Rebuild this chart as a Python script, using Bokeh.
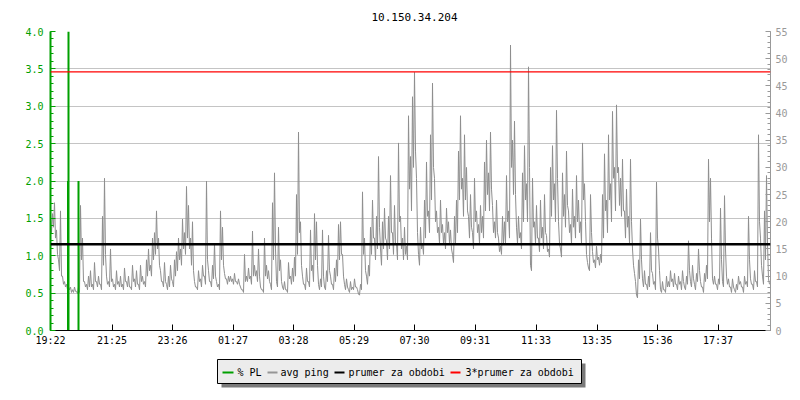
import numpy as np
from bokeh.plotting import figure
from bokeh.models import Range1d, LinearAxis, FixedTicker, PrintfTickFormatter, Span, Title
from bokeh.layouts import column
from bokeh.core.properties import value
from bokeh.embed import file_html
from bokeh.resources import INLINE

# ---------------- data ----------------
title_text = "10.150.34.204"
tick_minutes = [0, 123, 244, 365, 486, 607, 728, 849, 971, 1093, 1214, 1335]
tick_labels = ["19:22", "21:25", "23:26", "01:27", "03:28", "05:29",
               "07:30", "09:31", "11:33", "13:35", "15:36", "17:37"]
sample_step_min = 2
# first sample of each 4-minute pair
avg_ping_a = [
    20.5, 21.5, 23.5, 18.5, 13, 22, 10, 9, 8.5, 8,
    8, 7.5, 8, 7.2, 8, 23, 17, 9, 8.5, 10,
    11, 8.5, 12.5, 9, 10, 8.5, 21, 28, 10, 9,
    15, 9.5, 8.5, 11, 9, 10, 8.5, 11.5, 9, 10,
    8, 12, 9.5, 11, 8.5, 12, 10, 9, 13, 15,
    12, 17, 18, 22, 17, 11, 9, 12.5, 8.5, 10,
    12, 9, 13, 14.5, 17, 15, 20.5, 18, 26.5, 23,
    17, 20, 9, 8, 11, 9.5, 12, 10, 27.5, 11,
    9, 12, 16, 9, 8.5, 22, 19, 10.5, 9.5, 10,
    10, 9.5, 10.5, 9, 9.5, 8, 7.5, 14, 10, 11.5,
    10, 18.3, 12, 11, 15, 8, 7.5, 17, 12, 11,
    8.5, 23.5, 29, 9, 19, 13, 8, 9, 7.5, 12.5,
    10, 11.5, 13.5, 25, 36.5, 20, 10, 8.5, 11.5, 9,
    18.5, 12, 21.5, 20, 8.5, 9.5, 18.5, 8, 11, 17.5,
    10, 8.5, 11.5, 13, 19.5, 20, 14, 8.5, 9.5, 7.5,
    9, 8, 9.5, 8, 6.7, 8.5, 25.5, 17, 10, 12,
    19, 24, 17, 21, 32, 15, 20, 22.5, 16.5, 21,
    28.5, 18, 23, 16, 34.5, 21, 17, 19, 15.5, 39.5,
    32, 43, 47.5, 28, 14, 19, 16, 24, 31, 22,
    36, 45.5, 28, 22, 19, 24, 19.5, 18, 22.5, 20,
    18.5, 14, 21, 24, 33, 39.5, 28, 36, 30, 21,
    25, 18, 28, 22, 19.5, 23, 21, 31, 35, 29,
    36.5, 23, 20, 24, 17, 15.5, 21, 20, 28.5, 22,
    52.5, 35, 38.5, 19, 21, 18, 29, 34, 27, 48.5,
    12, 28, 20, 23, 17, 24, 19, 25, 17.5, 15,
    30, 34, 27, 40.5, 20, 15, 29, 25, 33, 22,
    19.5, 26, 21, 28.5, 24, 20, 34.5, 27, 14, 11.5,
    25, 14.5, 13, 15.5, 13.5, 14, 25, 32.5, 24, 36,
    27, 40.3, 30, 41.5, 30, 28, 31.5, 22, 26, 21,
    31.5, 15, 10.5, 6.5, 13, 20.5, 9.5, 11, 8.5, 10,
    18, 10.5, 9, 27.3, 15, 7.5, 9, 7.5, 10, 9,
    11, 9.5, 10.5, 8.5, 10, 9, 11, 8, 10, 16.5,
    9, 12, 8.5, 10.5, 15, 9, 8, 10.5, 12, 31.5,
    28, 9.5, 10, 8.5, 9.5, 22.5, 9, 24.8, 10, 9.5,
    8, 9.5, 7.5, 8.5, 10, 9, 8, 10, 9, 21,
    9.5, 8.5, 11, 9, 36, 17, 10, 22, 28.5, 9.5,
]
# second sample of each 4-minute pair (lower edge of the band in the picture)
avg_ping_b = [
    18, 19, 17, 14, 11, 10, 8.5, 8, 7.5, 7.5,
    7, 7, 7.2, 6.8, 7, 13, 9, 8, 7.5, 8,
    8, 7.5, 9, 8, 8.5, 7.5, 12, 14, 8.5, 8,
    9, 8, 7.5, 8.5, 8, 8, 7.5, 9, 8, 8,
    7.5, 9, 8, 8.5, 7.5, 9, 8.5, 8, 10, 11,
    10, 13, 14, 15, 12, 9, 8, 9, 7.5, 8,
    9.5, 8, 10, 11, 13, 12, 15, 14, 17, 15,
    12, 11, 8, 7.5, 9, 8, 10, 8.5, 13, 9,
    8, 9.5, 10, 8, 7.5, 13, 12, 9.5, 8.5, 9,
    9, 8.5, 9, 8.5, 8.5, 7.5, 7, 9, 9, 9.5,
    8.5, 10, 10, 9, 10, 7.5, 7, 10, 9.5, 9,
    7.5, 13, 15, 8, 11, 9, 7.5, 7.5, 7, 9.5,
    8.5, 9, 10, 14, 18, 12, 8.5, 7.5, 9, 8,
    11, 9, 13, 12, 7.5, 8, 10, 7.5, 9, 11,
    8.5, 7.5, 9, 10, 13, 14, 10, 7.5, 8, 7,
    7.5, 7.5, 8, 7.5, 6.5, 7.5, 14, 11, 8.5, 10,
    14, 17, 13, 15, 19, 12, 15, 17, 13, 15,
    18, 14, 16, 13, 20, 15, 13, 14, 13, 26,
    22, 30, 33, 18, 12, 15, 14, 17, 21, 18,
    24, 30, 20, 18, 16, 18, 16, 15, 18, 16,
    15, 12.5, 16, 18, 24, 26, 21, 24, 22, 17,
    19, 15, 20, 18, 16, 18, 17, 22, 25, 22,
    26, 18, 17, 18, 14.5, 14, 16, 16, 20, 17,
    30, 25, 25, 16, 17, 15, 20, 24, 20, 30,
    11, 19, 16, 17, 14.5, 17, 15, 18, 14.5, 13.5,
    21, 24, 20, 28, 16, 13.5, 21, 19, 23, 18,
    16, 19, 17, 20, 18, 16, 24, 20, 12.5, 11,
    18, 12.5, 11.5, 13, 12, 12.5, 17, 22, 18, 24,
    20, 28, 22, 29, 23, 21, 22, 17, 19, 16,
    20, 12, 9, 6, 9.5, 13, 8, 8.5, 7.5, 8,
    11, 8.5, 7.5, 17, 11, 7, 7.5, 7, 8, 8,
    9, 8, 8.5, 7.5, 8.5, 7.5, 9, 7.5, 8.5, 11,
    8, 9.5, 7.5, 9, 11, 8, 7, 9, 9.5, 20,
    17, 8.5, 8.5, 7.5, 8.5, 13, 8, 15, 8.5, 8,
    7, 8, 7, 7.5, 8.5, 8, 7, 8.5, 8, 13,
    8.5, 7.5, 9, 8, 20, 12, 8.5, 13, 16, 8.5,
]
pl_minutes = [35, 36, 56]
pl_percent = [2.0, 4.0, 2.0]
period_mean_ms = 15.86
period_mean_x3_ms = 47.57
legend_labels = ["% PL", "avg ping", "prumer za obdobi", "3*prumer za obdobi"]

# interleave the two samples of each pair into one time series
avg_ping_ms = list(np.column_stack([avg_ping_a, avg_ping_b]).ravel())
ping_minutes = list(np.arange(len(avg_ping_ms)) * sample_step_min)

# ---------------- styles ----------------
FONT = "DejaVu Sans Mono"
GREEN = "#00a000"
GRAY = "#8e8e8e"
AXGRAY = "#999999"
GRID = "#c4c4c4"

BL, BR = 50, 22  # left / right borders (px)

p = figure(width=792, height=350, x_range=Range1d(0, 1440), y_range=Range1d(0, 4),
           output_backend="svg", toolbar_location=None,
           min_border_left=BL, min_border_right=BR, min_border_top=30, min_border_bottom=20)
p.outline_line_color = None
p.background_fill_color = "white"
p.border_fill_color = "white"
p.extra_y_ranges = {"ping": Range1d(0, 55)}

p.title = Title(text=title_text, align="left", text_font=FONT, text_font_size="11px",
                text_font_style="normal", text_color="black", standoff=21, offset=321)

p.xgrid.visible = False
p.ygrid.ticker = FixedTicker(ticks=[0.5 * i for i in range(9)])
p.ygrid.grid_line_color = GRID
p.ygrid.grid_line_width = 1

xa = p.xaxis[0]
xa.ticker = FixedTicker(ticks=tick_minutes)
xa.major_label_overrides = {m: l for m, l in zip(tick_minutes, tick_labels)}
xa.major_tick_in = 6
xa.major_tick_out = 0
xa.minor_tick_line_color = None
xa.axis_line_color = "black"
xa.major_tick_line_color = "black"
xa.major_label_text_font = FONT
xa.major_label_text_font_size = "10px"
xa.major_label_text_color = "black"
xa.major_label_standoff = 4

ya = p.yaxis[0]
ya.ticker = FixedTicker(ticks=[0.5 * i for i in range(9)],
                        minor_ticks=[0.1 * i for i in range(41)])
ya.formatter = PrintfTickFormatter(format="%.1f")
ya.axis_line_color = GREEN
ya.axis_line_width = 2
ya.major_tick_line_color = GREEN
ya.minor_tick_line_color = GREEN
ya.major_tick_in = 5
ya.major_tick_out = 0
ya.minor_tick_in = 3
ya.minor_tick_out = 0
ya.major_label_text_font = FONT
ya.major_label_text_font_size = "10px"
ya.major_label_text_color = GREEN
ya.major_label_standoff = 7

ra = LinearAxis(y_range_name="ping",
                ticker=FixedTicker(ticks=list(range(0, 56, 5)), minor_ticks=list(range(0, 56))))
ra.axis_line_color = AXGRAY
ra.major_tick_line_color = AXGRAY
ra.minor_tick_line_color = AXGRAY
ra.major_tick_in = 5
ra.major_tick_out = 0
ra.minor_tick_in = 3
ra.minor_tick_out = 0
ra.major_label_text_font = FONT
ra.major_label_text_font_size = "10px"
ra.major_label_text_color = AXGRAY
ra.major_label_standoff = 5
p.add_layout(ra, "right")

p.line(ping_minutes, avg_ping_ms, y_range_name="ping", line_color=GRAY, line_width=1)
p.add_layout(Span(location=period_mean_ms, dimension="width", y_range_name="ping",
                  line_color="black", line_width=2.5))
p.add_layout(Span(location=period_mean_x3_ms, dimension="width", y_range_name="ping",
                  line_color="#ff0000", line_width=1.2))
p.segment(x0=pl_minutes, y0=[0] * len(pl_minutes), x1=pl_minutes, y1=pl_percent,
          line_color=GREEN, line_width=2)

# ---------------- legend (own small canvas, in page pixel coordinates) ----------------
lg = figure(width=792, height=42, x_range=Range1d(50, 770), y_range=Range1d(392, 350),
            output_backend="svg", toolbar_location=None, x_axis_type=None, y_axis_type=None,
            min_border_left=BL, min_border_right=BR, min_border_top=0, min_border_bottom=0)
lg.outline_line_color = None
lg.xgrid.visible = False
lg.ygrid.visible = False
lg.background_fill_color = "white"
lg.border_fill_color = "white"

lg.quad(left=[221], right=[585], top=[363], bottom=[387], fill_color="#7a7a7a", line_color=None)
lg.quad(left=[217], right=[581], top=[359], bottom=[383], fill_color="#ececec",
        line_color="black", line_width=1)
item_line_x = [(222, 233), (267, 277), (334, 344), (450, 460)]
item_text_x = [237, 280, 348, 465]
item_colors = [GREEN, "#969696", "black", "#ff0000"]
lg.segment(x0=[a for a, b in item_line_x], x1=[b for a, b in item_line_x],
           y0=[372] * 4, y1=[372] * 4, line_color=item_colors, line_width=2)
lg.text(x=item_text_x, y=[371.5] * 4, text=legend_labels, text_font=value(FONT),
        text_font_size="10px", text_baseline="middle", text_align="left", text_color="black")

layout = column(p, lg, spacing=0)
open("out.html", "w").write(file_html(layout, INLINE))
